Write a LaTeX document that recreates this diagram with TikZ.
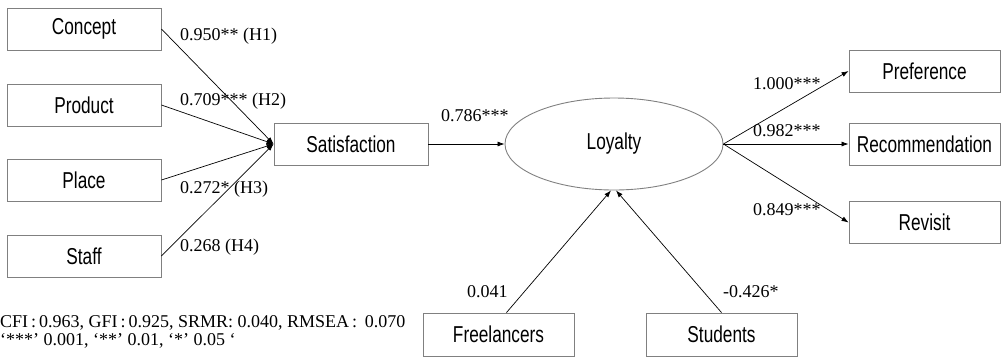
\documentclass[tikz,border=0pt]{standalone}
\usepackage{fontspec}
\setmainfont{Liberation Serif}
\newfontfamily\boxfont[FakeStretch=0.75]{Liberation Sans}
\usetikzlibrary{arrows.meta,shapes.geometric}
\begin{document}
\begin{tikzpicture}[x=1pt,y=-1pt,
  box/.style={draw=black!50,line width=0.9pt,rectangle,inner sep=0pt,
    minimum width=154pt,minimum height=42pt,font=\boxfont\fontsize{23}{25}\selectfont},
  latent/.style={draw=black!50,line width=0.9pt,ellipse,inner sep=0pt,
    minimum width=218pt,minimum height=92pt,font=\boxfont\fontsize{23}{25}\selectfont},
  path/.style={draw=black,line width=0.7pt,-{Latex[length=7pt,width=5pt]}},
  lab/.style={font=\fontsize{18}{20}\selectfont,inner sep=0pt,anchor=west},
]
\useasboundingbox (0,0) rectangle (1004,357);
% left boxes
\node[box] (concept) at (84,29) {Concept};
\node[box] (product) at (84,105) {Product};
\node[box] (place) at (84,180) {Place};
\node[box] (staff) at (84,256) {Staff};
\node[box] (sat) at (351,144) {Satisfaction};
\node[latent] (loy) at (614,144) {Loyalty};
\node[box,minimum width=151pt] (pref) at (924.5,71) {Preference};
\node[box,minimum width=151pt] (rec) at (924.5,144) {Recommendation};
\node[box,minimum width=151pt] (rev) at (924.5,222.5) {Revisit};
\node[box,minimum width=151pt,minimum height=43pt] (free) at (498.5,334.5) {Freelancers};
\node[box,minimum width=151pt,minimum height=43pt] (stud) at (721.5,334.5) {Students};
% connectors
\draw[path] (concept.east) -- (sat.west);
\draw[path] (product.east) -- (sat.west);
\draw[path] (place.east) -- (sat.west);
\draw[path] (staff.east) -- (sat.west);
\draw[path] (sat.east) -- (loy.west);
\draw[path] (loy.east) -- (pref.west);
\draw[path] (loy.east) -- (rec.west);
\draw[path] (loy.east) -- (rev.west);
\coordinate (fend) at ([xshift=-3pt]loy.south);
\coordinate (send) at ([xshift=2pt]loy.south);
\coordinate (fstart) at ([xshift=8pt]free.north);
\draw[path] (fstart) -- (fend);
\draw[path] (stud.north) -- (send);
% labels
\node[lab] (l1) at (180,36) {0.950** (H1)};
\node[lab] (l2) at (180,101) {0.709*** (H2)};
\node[lab] (l3) at (180,189) {0.272* (H3)};
\node[lab] (l4) at (180,247) {0.268 (H4)};
\node[lab] (l5) at (441,116) {0.786***};
\node[lab] (l6) at (753,84) {1.000***};
\node[lab] (l7) at (753,131) {0.982***};
\node[lab] (l8) at (753,210) {0.849***};
\node[lab] (l9) at (467,292) {0.041};
\node[lab] (l10) at (723,292) {-0.426*};
\node[lab,anchor=base west] (fit) at (0,327) {CFI\,:\,0.963, GFI\,:\,0.925, SRMR: 0.040, RMSEA\,:\, 0.070};
\node[lab,anchor=base west] (sig) at (0,345) {‘***’ 0.001, ‘**’ 0.01, ‘*’ 0.05 ‘};
\end{tikzpicture}
\end{document}
